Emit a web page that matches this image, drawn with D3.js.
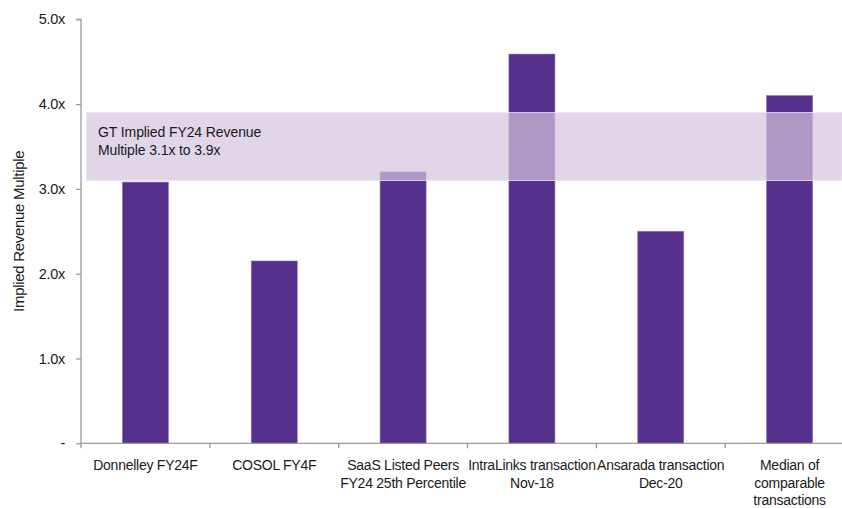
<!DOCTYPE html>
<html>
<head>
<meta charset="utf-8">
<script src="https://cdn.jsdelivr.net/npm/d3@7"></script>
<style>
  body { margin: 0; background: #fff; }
  svg { display: block; font-family: "Liberation Sans", Arial, sans-serif; }
</style>
</head>
<body>
<svg id="chart" width="842" height="508"></svg>
<script>
const categories = [
  "Donnelley FY24F",
  "COSOL FY4F",
  "SaaS Listed Peers\nFY24 25th Percentile",
  "IntraLinks transaction\nNov-18",
  "Ansarada transaction\nDec-20",
  "Median of\ncomparable\ntransactions"
];
const values = [3.08, 2.15, 3.20, 4.59, 2.50, 4.10];
const yTicks = [0, 1, 2, 3, 4, 5];
const yTickLabels = ["-", "1.0x", "2.0x", "3.0x", "4.0x", "5.0x"];
const bandRange = [3.1, 3.9];
const bandLabel = ["GT Implied FY24 Revenue", "Multiple 3.1x  to 3.9x"];
const yTitle = "Implied Revenue Multiple";

const svg = d3.select("#chart");
const pLeft = 81, pRight = 854, pTop = 19.3, pBottom = 443.3;

const x = d3.scaleBand().domain(categories).range([pLeft, pRight])
  .paddingInner(0.643).paddingOuter(0.3215);
const y = d3.scaleLinear().domain([0, 5]).range([pBottom, pTop]);

const axisColor = "#9a9a9a";

// bars
svg.append("g").selectAll("rect").data(values).join("rect")
  .attr("x", (d, i) => x(categories[i]))
  .attr("y", d => y(d))
  .attr("width", x.bandwidth())
  .attr("height", d => y(0) - y(d))
  .attr("fill", "#56308d")
  .attr("stroke", "#8d70b5")
  .attr("stroke-width", 0.6);

// shaded band
svg.append("rect")
  .attr("x", 86.5)
  .attr("y", y(bandRange[1]))
  .attr("width", 842 - 86.5)
  .attr("height", y(bandRange[0]) - y(bandRange[1]))
  .attr("fill", "rgb(212,197,222)")
  .attr("fill-opacity", 0.7)
  .attr("stroke", "#ece4f1")
  .attr("stroke-width", 0.8);

svg.append("text")
  .attr("x", 98)
  .attr("y", y(bandRange[1]) + 24)
  .attr("font-size", 14)
  .attr("fill", "#1a1a1a")
  .attr("letter-spacing", -0.1)
  .selectAll("tspan").data(bandLabel).join("tspan")
  .attr("x", 98)
  .attr("dy", (d, i) => i === 0 ? 0 : 18.5)
  .text(d => d);

// y axis
const yAxis = d3.axisLeft(y).tickValues(yTicks)
  .tickFormat((d, i) => yTickLabels[i]).tickSize(5).tickPadding(11);
const gy = svg.append("g").attr("transform", `translate(${pLeft},0)`).call(yAxis);
gy.select(".domain").attr("stroke", axisColor).attr("stroke-width", 1.3)
  .attr("d", `M-5,${pTop}H0V${pBottom + 5}`);
gy.selectAll(".tick line").attr("stroke", axisColor).attr("stroke-width", 1.3);
gy.selectAll(".tick text").attr("font-size", 14.5).attr("fill", "#1a1a1a")
  .attr("letter-spacing", -0.3)
  .attr("font-family", "Liberation Sans, Arial, sans-serif");

// x axis line
svg.append("line")
  .attr("x1", pLeft).attr("x2", 842)
  .attr("y1", pBottom).attr("y2", pBottom)
  .attr("stroke", axisColor).attr("stroke-width", 1.3);

// x separators
const step = x.step();
const seps = d3.range(1, categories.length).map(i => pLeft + i * step);
svg.append("g").selectAll("line").data(seps).join("line")
  .attr("x1", d => d).attr("x2", d => d)
  .attr("y1", pBottom).attr("y2", pBottom + 5)
  .attr("stroke", axisColor).attr("stroke-width", 1.3);

// x labels
const xl = svg.append("g").selectAll("text").data(categories).join("text")
  .attr("x", d => x(d) + x.bandwidth() / 2)
  .attr("y", 470)
  .attr("text-anchor", "middle")
  .attr("font-size", 14)
  .attr("letter-spacing", -0.25)
  .attr("fill", "#1a1a1a");
xl.selectAll("tspan").data(d => d.split("\n")).join("tspan")
  .attr("x", function() { return d3.select(this.parentNode).attr("x"); })
  .attr("dy", (d, i) => i === 0 ? 0 : 17.5)
  .text(d => d);

// y title
svg.append("text")
  .attr("transform", `translate(24,${(pTop + pBottom) / 2}) rotate(-90)`)
  .attr("text-anchor", "middle")
  .attr("font-size", 15)
  .attr("letter-spacing", -0.3)
  .attr("fill", "#1a1a1a")
  .text(yTitle);
</script>
</body>
</html>
